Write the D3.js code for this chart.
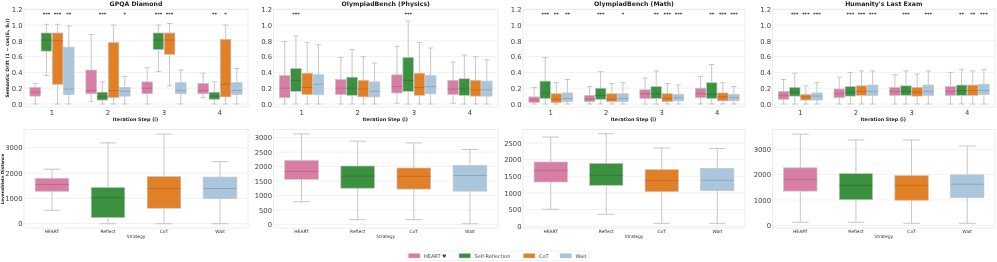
<!DOCTYPE html>
<html>
<head>
<meta charset="utf-8">
<script src="https://cdn.jsdelivr.net/npm/d3@7"></script>
<style>
  html, body { margin: 0; padding: 0; background: #fff; }
  svg { display: block; filter: blur(0.3px); }
  svg text { font-family: "DejaVu Sans", sans-serif; }
  .axis path, .axis line { display: none; }
</style>
</head>
<body>
<svg id="chart" width="997" height="262"></svg>
<script>
var strategies = ["HEART", "Reflect", "CoT", "Wait"];
var legendLabels = ["HEART \u2665", "Self-Reflection", "CoT", "Wait"];
var colors = ["#d87ea6", "#3b9140", "#e28028", "#a9c6dc"];
var steps = ["1", "2", "3", "4"];
var driftTicks = [0, 0.2, 0.4, 0.6, 0.8, 1.0, 1.2];

// [low whisker, q1, median, q3, high whisker] per step, per strategy
var gpqaDrift = [
  [[0, .10, .15, .21, .26], [.36, .67, .81, .90, 1.01], [0, .25, .80, .90, 1.01], [0, .12, .19, .72, .99]],
  [[.03, .13, .17, .43, .88], [0, .05, .09, .15, .28], [0, .08, .17, .78, 1.0], [0, .10, .16, .21, .35]],
  [[0, .13, .20, .28, .46], [.41, .69, .81, .90, 1.0], [.23, .63, .81, .90, 1.02], [0, .13, .17, .27, .43]],
  [[.08, .13, .17, .26, .39], [0, .06, .10, .15, .28], [0, .09, .25, .82, 1.0], [0, .12, .17, .27, .45]]
];
var physicsDrift = [
  [[0, .08, .20, .36, .79], [0, .16, .30, .45, .86], [0, .12, .21, .39, .78], [0, .12, .25, .37, .75]],
  [[0, .12, .20, .31, .59], [0, .11, .20, .34, .69], [0, .09, .19, .30, .60], [0, .09, .16, .28, .52]],
  [[.01, .14, .22, .37, .73], [0, .16, .30, .59, 1.05], [0, .11, .21, .39, .78], [0, .13, .22, .36, .71]],
  [[.01, .12, .19, .30, .53], [0, .11, .20, .32, .62], [0, .10, .18, .30, .60], [0, .10, .18, .29, .56]]
];
var mathDrift = [
  [[0, .02, .05, .09, .21], [0, .07, .14, .29, .59], [0, .02, .06, .13, .27], [0, .03, .07, .14, .31]],
  [[0, .03, .06, .11, .22], [0, .06, .11, .20, .41], [0, .03, .06, .13, .26], [0, .03, .07, .13, .27]],
  [[0, .07, .13, .18, .33], [0, .07, .13, .22, .42], [0, .03, .07, .13, .26], [0, .04, .08, .12, .24]],
  [[0, .08, .13, .20, .35], [0, .07, .12, .27, .50], [0, .04, .09, .14, .27], [0, .04, .08, .12, .22]]
];
var hleDrift = [
  [[0, .06, .11, .16, .31], [0, .10, .15, .21, .39], [0, .05, .09, .12, .23], [0, .05, .10, .14, .27]],
  [[0, .08, .13, .19, .34], [0, .10, .15, .22, .40], [0, .11, .16, .23, .42], [0, .11, .16, .24, .42]],
  [[0, .11, .16, .21, .37], [0, .11, .16, .23, .42], [0, .10, .15, .21, .38], [0, .11, .16, .24, .42]],
  [[0, .11, .16, .22, .40], [0, .11, .17, .24, .44], [0, .11, .17, .24, .42], [0, .12, .17, .25, .44]]
];

// significance stars per step: HEART has none, then Reflect, CoT, Wait
var gpqaStars = [["", "***", "***", "**"], ["", "***", "", "*"], ["", "***", "***", ""], ["", "**", "*", ""]];
var physicsStars = [["", "***", "", ""], ["", "", "", ""], ["", "***", "", ""], ["", "", "", ""]];
var mathStars = [["", "***", "**", "**"], ["", "***", "", "*"], ["", "**", "***", "***"], ["", "**", "***", "***"]];
var hleStars = [["", "***", "***", "***"], ["", "***", "***", "***"], ["", "***", "", "***"], ["", "**", "**", "***"]];

var gpqaLev = [[530, 1280, 1550, 1790, 2150], [0, 240, 1030, 1430, 3190], [0, 610, 1390, 1860, 3540], [0, 990, 1390, 1840, 2450]];
var physicsLev = [[780, 1560, 1830, 2210, 3130], [160, 1250, 1670, 2020, 2880], [160, 1220, 1660, 1950, 2820], [20, 1150, 1690, 2040, 2590]];
var mathLev = [[510, 1330, 1680, 1930, 2680], [360, 1230, 1530, 1890, 2780], [90, 1040, 1370, 1700, 2350], [90, 1070, 1380, 1740, 2340]];
var hleLev = [[120, 1350, 1810, 2270, 3600], [120, 1010, 1580, 2040, 3370], [80, 990, 1580, 1960, 3370], [80, 1100, 1620, 1990, 3130]];

var levTicksA = [0, 1000, 2000, 3000];
var levTicksB = [0, 500, 1000, 1500, 2000, 2500, 3000];
var levTicksC = [0, 500, 1000, 1500, 2000, 2500];

var panels = [
  { title: "GPQA Diamond", left: 24, right: 248, drift: gpqaDrift, stars: gpqaStars, lev: gpqaLev, levTicks: levTicksA, levZero: 223.7, levPer: 76 / 3000 },
  { title: "OlympiadBench (Physics)", left: 273.5, right: 498, drift: physicsDrift, stars: physicsStars, lev: physicsLev, levTicks: levTicksB, levZero: 224.3, levPer: 86.6 / 3000 },
  { title: "OlympiadBench (Math)", left: 523, right: 745, drift: mathDrift, stars: mathStars, lev: mathLev, levTicks: levTicksC, levZero: 226.3, levPer: 83.3 / 2500 },
  { title: "Humanity's Last Exam", left: 772.5, right: 995, drift: hleDrift, stars: hleStars, lev: hleLev, levTicks: levTicksA, levZero: 225.3, levPer: 76 / 3000 }
];

var svg = d3.select("#chart");
var driftTop = 9.3, driftBottom = 107, levTop = 129.5, levBottom = 228;
var gridColor = "#f1f1f1", frameColor = "#ececec", whiskerColor = "#c6c6c6";

function drawBox(g, stats, x, w, y, color) {
  var cx = x + w / 2;
  // whiskers
  g.append("line").attr("x1", cx).attr("x2", cx).attr("y1", y(stats[0])).attr("y2", y(stats[1]))
    .attr("stroke", whiskerColor).attr("stroke-width", 1);
  g.append("line").attr("x1", cx).attr("x2", cx).attr("y1", y(stats[3])).attr("y2", y(stats[4]))
    .attr("stroke", whiskerColor).attr("stroke-width", 1);
  [stats[0], stats[4]].forEach(function(v) {
    g.append("line").attr("x1", cx - w / 4).attr("x2", cx + w / 4).attr("y1", y(v)).attr("y2", y(v))
      .attr("stroke", whiskerColor).attr("stroke-width", 1);
  });
  g.append("rect").attr("x", x).attr("width", w).attr("y", y(stats[3])).attr("height", y(stats[1]) - y(stats[3]))
    .attr("fill", color).attr("stroke", "#c4c4c4").attr("stroke-width", 0.7);
  g.append("line").attr("x1", x).attr("x2", x + w).attr("y1", y(stats[2])).attr("y2", y(stats[2]))
    .attr("stroke", d3.color(color).darker(0.7)).attr("stroke-width", 0.7);
}

function drawFrame(g, left, right, top, bottom) {
  g.append("rect").attr("x", left).attr("y", top).attr("width", right - left).attr("height", bottom - top)
    .attr("fill", "none").attr("stroke", frameColor).attr("stroke-width", 1);
}

function drawGrid(g, y, ticks, left, right) {
  g.selectAll(null).data(ticks).enter().append("line")
    .attr("x1", left).attr("x2", right)
    .attr("y1", function(d) { return y(d); }).attr("y2", function(d) { return y(d); })
    .attr("stroke", gridColor).attr("stroke-width", 1);
}

panels.forEach(function(p, pi) {
  var g = svg.append("g");

  // top row: drift per iteration step
  var yDrift = d3.scaleLinear().domain([0, 1.2]).range([104, driftTop]);
  var xStep = d3.scaleBand().domain(steps).range([p.left, p.right]);
  var xInner = d3.scaleBand().domain(strategies).range([0, xStep.bandwidth() * 0.8]);

  drawGrid(g, yDrift, driftTicks, p.left, p.right);

  steps.forEach(function(s, si) {
    var gx = xStep(s) + xStep.bandwidth() * 0.1;
    strategies.forEach(function(st, k) {
      drawBox(g, p.drift[si][k], gx + xInner(st) + 0.3, xInner.bandwidth() - 0.6, yDrift, colors[k]);
      if (p.stars[si][k]) {
        g.append("text").attr("x", gx + xInner(st) + xInner.bandwidth() / 2).attr("y", 16.4)
          .attr("text-anchor", "middle").attr("font-size", 4.8).attr("font-weight", "bold").attr("fill", "#222")
          .text(p.stars[si][k]);
      }
    });
  });
  drawFrame(g, p.left, p.right, driftTop, driftBottom);

  g.append("g").attr("class", "axis")
    .attr("transform", "translate(" + p.left + ",0)")
    .call(d3.axisLeft(yDrift).tickValues(driftTicks).tickFormat(d3.format(".1f")).tickSize(0).tickPadding(1.5))
    .call(function(a) { a.selectAll("text").attr("font-size", 6.8).attr("fill", "#444"); });
  g.append("g").attr("class", "axis")
    .attr("transform", "translate(0," + driftBottom + ")")
    .call(d3.axisBottom(xStep).tickSize(0).tickPadding(3))
    .call(function(a) { a.selectAll("text").attr("font-size", 6.8).attr("fill", "#444"); });

  g.append("text").attr("x", (p.left + p.right) / 2).attr("y", 6.3).attr("text-anchor", "middle")
    .attr("font-size", 6.2).attr("font-weight", "bold").attr("fill", "#222").text(p.title);
  g.append("text").attr("x", (p.left + p.right) / 2 - 0.5).attr("y", 120.5).attr("text-anchor", "middle")
    .attr("font-size", 4.8).attr("font-weight", "bold").attr("fill", "#222").text("Iteration Step (i)");

  // bottom row: Levenshtein distance per strategy
  var yLev = d3.scaleLinear().domain([0, 1000]).range([p.levZero, p.levZero - p.levPer * 1000]);
  var xStrat = d3.scaleBand().domain(strategies).range([p.left, p.right]);
  var levVisible = p.levTicks.filter(function(t) { return yLev(t) > levTop; });

  drawGrid(g, yLev, levVisible, p.left, p.right);
  strategies.forEach(function(st, k) {
    var w = xStrat.bandwidth() * 0.6;
    drawBox(g, p.lev[k], xStrat(st) + xStrat.bandwidth() * 0.2, w, yLev, colors[k]);
  });
  drawFrame(g, p.left, p.right, levTop, levBottom);

  g.append("g").attr("class", "axis")
    .attr("transform", "translate(" + p.left + ",0)")
    .call(d3.axisLeft(yLev).tickValues(levVisible).tickFormat(d3.format("d")).tickSize(0).tickPadding(1.5))
    .call(function(a) { a.selectAll("text").attr("font-size", 6.8).attr("fill", "#444"); });
  g.append("g").attr("class", "axis")
    .attr("transform", "translate(0," + levBottom + ")")
    .call(d3.axisBottom(xStrat).tickSize(0).tickPadding(1.5))
    .call(function(a) { a.selectAll("text").attr("font-size", 4.4).attr("fill", "#333"); });
  g.append("text").attr("x", (p.left + p.right) / 2).attr("y", 238).attr("text-anchor", "middle")
    .attr("font-size", 4.4).attr("fill", "#333").text("Strategy");

  if (pi === 0) {
    g.append("text").attr("transform", "translate(9.3,58) rotate(-90)").attr("text-anchor", "middle")
      .attr("font-size", 4.6).attr("font-weight", "bold").attr("fill", "#222")
      .text("Semantic Drift (1 \u2212 cos(E\u1D62, E\u2080))");
    g.append("text").attr("transform", "translate(4,179) rotate(-90)").attr("text-anchor", "middle")
      .attr("font-size", 4.2).attr("font-weight", "bold").attr("fill", "#222")
      .text("Levenshtein Distance");
  }
});

// legend
var legend = svg.append("g");
legend.append("rect").attr("x", 407).attr("y", 251).attr("width", 182).attr("height", 9.5)
  .attr("rx", 1).attr("fill", "#fff").attr("stroke", "#ececec").attr("stroke-width", 0.7);
var legendX = d3.scaleOrdinal().domain(legendLabels).range([408.5, 459, 523.5, 560]);
legendLabels.forEach(function(label, k) {
  legend.append("rect").attr("x", legendX(label)).attr("y", 253.5).attr("width", 11.5).attr("height", 4.5)
    .attr("fill", colors[k]).attr("stroke", "#c4c4c4").attr("stroke-width", 0.4);
  legend.append("text").attr("x", legendX(label) + 15.5).attr("y", 257.7).attr("font-size", 5).attr("fill", "#444").text(label);
});
</script>
</body>
</html>
